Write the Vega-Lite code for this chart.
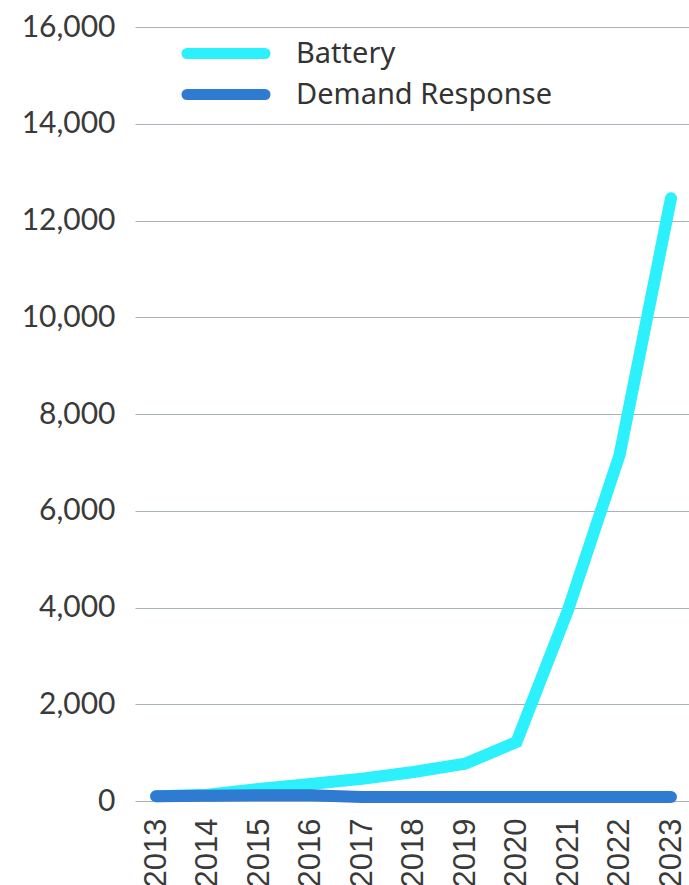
{
  "$schema": "https://vega.github.io/schema/vega-lite/v6.json",
  "width": 554,
  "height": 774,
  "autosize": {"type": "none"},
  "padding": {"left": 135, "top": 27, "right": 0, "bottom": 84},
  "background": "white",
  "config": {"view": {"stroke": null}},
  "data": {
    "values": [
      {"year": "2013", "series": "Battery", "value": 100},
      {"year": "2014", "series": "Battery", "value": 130},
      {"year": "2015", "series": "Battery", "value": 250},
      {"year": "2016", "series": "Battery", "value": 350},
      {"year": "2017", "series": "Battery", "value": 460},
      {"year": "2018", "series": "Battery", "value": 600},
      {"year": "2019", "series": "Battery", "value": 770},
      {"year": "2020", "series": "Battery", "value": 1220},
      {"year": "2021", "series": "Battery", "value": 3950},
      {"year": "2022", "series": "Battery", "value": 7150},
      {"year": "2023", "series": "Battery", "value": 12460},
      {"year": "2013", "series": "Demand Response", "value": 100},
      {"year": "2014", "series": "Demand Response", "value": 110},
      {"year": "2015", "series": "Demand Response", "value": 120},
      {"year": "2016", "series": "Demand Response", "value": 120},
      {"year": "2017", "series": "Demand Response", "value": 85},
      {"year": "2018", "series": "Demand Response", "value": 85},
      {"year": "2019", "series": "Demand Response", "value": 85},
      {"year": "2020", "series": "Demand Response", "value": 85},
      {"year": "2021", "series": "Demand Response", "value": 85},
      {"year": "2022", "series": "Demand Response", "value": 85},
      {"year": "2023", "series": "Demand Response", "value": 85}
    ]
  },
  "mark": {"type": "line", "strokeWidth": 12, "strokeCap": "round", "strokeJoin": "miter"},
  "encoding": {
    "x": {
      "field": "year",
      "type": "ordinal",
      "scale": {"type": "point", "padding": 0.38, "align": 0.54},
      "axis": {
        "title": null,
        "labelAngle": -90,
        "labelFont": "Liberation Sans",
        "labelFontSize": 31,
        "labelColor": "#3a3a3a",
        "labelPadding": 17,
        "ticks": false,
        "domain": false,
        "grid": false
      }
    },
    "y": {
      "field": "value",
      "type": "quantitative",
      "scale": {"domain": [0, 16000], "nice": false},
      "axis": {
        "title": null,
        "values": [0, 2000, 4000, 6000, 8000, 10000, 12000, 14000, 16000],
        "format": ",d",
        "labelFont": "Lato",
        "labelFontSize": 30,
        "labelColor": "#3a3a3a",
        "labelPadding": 20,
        "ticks": false,
        "domain": false,
        "grid": true,
        "gridColor": "#a8b2be",
        "gridWidth": 1
      }
    },
    "color": {
      "field": "series",
      "type": "nominal",
      "scale": {"domain": ["Battery", "Demand Response"], "range": ["#2cf0fc", "#2f7bd2"]},
      "legend": {
        "title": null,
        "orient": "none",
        "legendX": 72.5,
        "legendY": 8,
        "padding": 0,
        "symbolType": "M-3,0H3",
        "symbolSize": 676,
        "symbolStrokeWidth": 11,
        "labelFont": "Noto Sans",
        "labelFontSize": 29,
        "labelColor": "#333333",
        "labelOffset": 51.5,
        "labelLimit": 400,
        "rowPadding": -7,
        "encode": {"symbols": {"update": {"strokeCap": {"value": "round"}}}}
      }
    }
  }
}
